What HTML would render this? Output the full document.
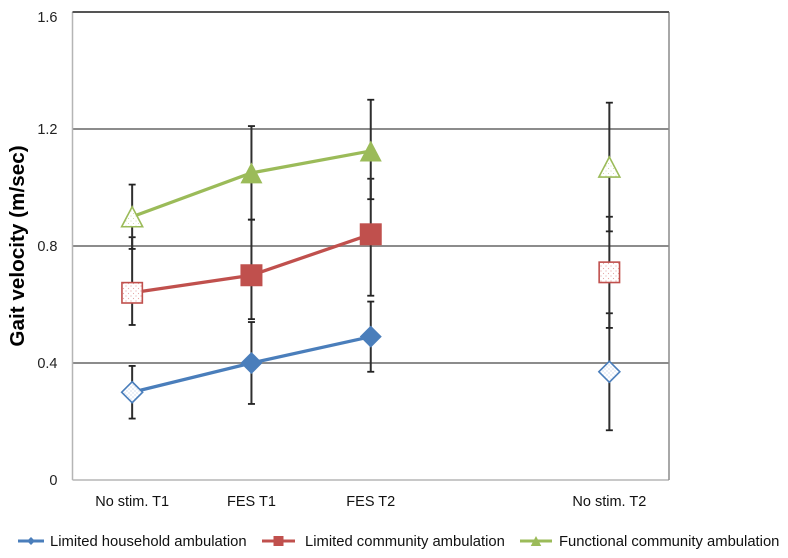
<!DOCTYPE html>
<html lang="en">
<head>
<meta charset="utf-8">
<title>Gait velocity chart</title>
<style>
html,body{margin:0;padding:0;background:#fff;}
svg{display:block;font-family:"Liberation Sans",Arial,sans-serif;}
</style>
</head>
<body>
<svg id="chart" xmlns="http://www.w3.org/2000/svg" width="788" height="558" viewBox="0 0 788 558">
<defs>
<pattern id="dots-blue" width="4" height="4" patternUnits="userSpaceOnUse"><rect width="4" height="4" fill="#fff"/><circle cx="1" cy="1" r="0.55" fill="#9db8dc"/><circle cx="3" cy="3" r="0.55" fill="#9db8dc"/></pattern>
<pattern id="dots-red" width="5" height="5" patternUnits="userSpaceOnUse"><rect width="5" height="5" fill="#fff"/><circle cx="1" cy="1" r="0.6" fill="#e6a9a8"/><circle cx="3.5" cy="3.5" r="0.6" fill="#e6a9a8"/></pattern>
<pattern id="dots-green" width="5" height="5" patternUnits="userSpaceOnUse"><rect width="5" height="5" fill="#fff"/><circle cx="1" cy="1" r="0.55" fill="#c5d8a0"/><circle cx="3.5" cy="3.5" r="0.55" fill="#c5d8a0"/></pattern>
</defs>
<g id="frame-layer"></g>
<g id="error-layer"></g>
<g id="line-layer"></g>
<g id="marker-layer"></g>
<g id="label-layer"></g>
<text transform="translate(24,246) rotate(-90)" text-anchor="middle" font-size="20.7" font-weight="bold" fill="#000">Gait velocity (m/sec)</text>
<g id="legend-layer"></g>
</svg>
<script>
const categories = ["No stim. T1", "FES T1", "FES T2", "", "No stim. T2"];
const yTicks = [0, 0.4, 0.8, 1.2, 1.6];
const yTickLabels = ["0", "0.4", "0.8", "1.2", "1.6"];
const seriesNames = ["Limited household ambulation", "Limited community ambulation", "Functional community ambulation"];
const householdValues = [0.30, 0.40, 0.49, null, 0.37];
const householdHigh = [0.39, 0.54, 0.61, null, 0.57];
const householdLow = [0.21, 0.26, 0.37, null, 0.17];
const communityValues = [0.64, 0.70, 0.84, null, 0.71];
const communityHigh = [0.83, 0.89, 1.03, null, 0.90];
const communityLow = [0.53, 0.55, 0.63, null, 0.52];
const functionalValues = [0.90, 1.05, 1.125, null, 1.07];
const functionalHigh = [1.01, 1.21, 1.30, null, 1.29];
const functionalLow = [0.79, 0.89, 0.96, null, 0.85];
const hollowPoints = [true, false, false, false, true];

const NS = "http://www.w3.org/2000/svg";
const plotLeft = 72.5, plotRight = 669, plotTop = 12, plotBottom = 480, yMax = 1.6;
function xScale(i) { return plotLeft + (i + 0.5) * (plotRight - plotLeft) / categories.length; }
function yScale(v) { return plotBottom - (v / yMax) * (plotBottom - plotTop); }
function make(parent, tag, attrs, text) {
  const el = document.createElementNS(NS, tag);
  for (const k in attrs) el.setAttribute(k, attrs[k]);
  if (text !== undefined) el.textContent = text;
  parent.appendChild(el);
  return el;
}
const frame = document.getElementById("frame-layer");
const errs = document.getElementById("error-layer");
const linesG = document.getElementById("line-layer");
const markers = document.getElementById("marker-layer");
const labels = document.getElementById("label-layer");
const legend = document.getElementById("legend-layer");

yTicks.forEach(function (t, i) {
  if (t > 0 && t < yMax) {
    const g = make(frame, "line", { x1: plotLeft, x2: plotRight, y1: yScale(t), y2: yScale(t), stroke: "#8c8c8c", "stroke-width": 2 });
    
    
  }
  const lab = make(labels, "text", { x: 57.5, y: Math.max(yScale(t) + 5, 22), "text-anchor": "end", "font-size": 14.5, fill: "#222" }, yTickLabels[i]);
  
  
});
const leftAxis = make(frame, "line", { x1: plotLeft, x2: plotLeft, y1: plotTop, y2: plotBottom, stroke: "#b5b5b5", "stroke-width": 1.5 });


const bottomAxis = make(frame, "line", { x1: plotLeft, x2: plotRight, y1: plotBottom, y2: plotBottom, stroke: "#b5b5b5", "stroke-width": 1.5 });


const rightEdge = make(frame, "line", { x1: plotRight, x2: plotRight, y1: plotTop, y2: plotBottom, stroke: "#8c8c8c", "stroke-width": 1.5 });


const topEdge = make(frame, "line", { x1: plotLeft, x2: plotRight, y1: plotTop, y2: plotTop, stroke: "#555", "stroke-width": 2 });



categories.forEach(function (c, i) {
  if (!c) return;
  const lab = make(labels, "text", { x: xScale(i), y: 506, "text-anchor": "middle", "font-size": 14.5, fill: "#111" }, c);
  
  
});

function drawShape(parent, shape, cx, cy, r, fill, stroke, sw) {
  if (shape === "diamond") {
    return make(parent, "polygon", { points: [cx, cy - r, cx + r, cy, cx, cy + r, cx - r, cy].join(","), fill: fill, stroke: stroke, "stroke-width": sw });
  }
  if (shape === "square") {
    return make(parent, "rect", { x: cx - r, y: cy - r, width: 2 * r, height: 2 * r, fill: fill, stroke: stroke, "stroke-width": sw });
  }
  return make(parent, "polygon", { points: [cx, cy - r, cx + r * 1.05, cy + r, cx - r * 1.05, cy + r].join(","), fill: fill, stroke: stroke, "stroke-width": sw });
}

function drawSeries(values, high, low, color, dots, shape, size, hollowSize) {
  high.forEach(function (h, i) {
    if (h === null) return;
    const x = xScale(i);
    const bar = make(errs, "line", { x1: x, x2: x, y1: yScale(h), y2: yScale(low[i]), stroke: "#2f2f2f", "stroke-width": 2 });
    
    
    [h, low[i]].forEach(function (v) {
      const cap = make(errs, "line", { x1: x - 3.5, x2: x + 3.5, y1: yScale(v), y2: yScale(v), stroke: "#222", "stroke-width": 1.8 });
      
      
    });
  });
  const solid = [];
  values.forEach(function (v, i) {
    if (v !== null && i < 3) solid.push(xScale(i) + "," + yScale(v));
  });
  const line = make(linesG, "polyline", { points: solid.join(" "), fill: "none", stroke: color, "stroke-width": 3.3 });
  
  
  values.forEach(function (v, i) {
    if (v === null) return;
    const hollow = hollowPoints[i];
    const m = drawShape(markers, shape, xScale(i), yScale(v), hollow ? hollowSize : size, hollow ? "url(#" + dots + ")" : color, color, hollow ? 1.6 : 0);
    
    
  });
}
drawSeries(householdValues, householdHigh, householdLow, "#4a7ebb", "dots-blue", "diamond", 11, 10.5);
drawSeries(communityValues, communityHigh, communityLow, "#c0504d", "dots-red", "square", 11, 10.2);
drawSeries(functionalValues, functionalHigh, functionalLow, "#9bbb59", "dots-green", "triangle", 10.5, 10);

const legendColors = ["#4a7ebb", "#c0504d", "#9bbb59"];
const legendShapes = ["diamond", "square", "triangle"];
const legendStarts = [18, 262, 520];
const legendWidths = [26, 33, 32];
const legendTextStarts = [50, 305, 559];
seriesNames.forEach(function (name, i) {
  const g = make(legend, "g", {});
  
  
  make(g, "line", { x1: legendStarts[i], x2: legendStarts[i] + legendWidths[i], y1: 541, y2: 541, stroke: legendColors[i], "stroke-width": 3 });
  drawShape(g, legendShapes[i], legendStarts[i] + legendWidths[i] / 2, 541, i === 0 ? 4 : 5, legendColors[i], legendColors[i], 0);
  make(g, "text", { x: legendTextStarts[i], y: 546, "font-size": 14.8, fill: "#111" }, name);
});
</script>
</body>
</html>
